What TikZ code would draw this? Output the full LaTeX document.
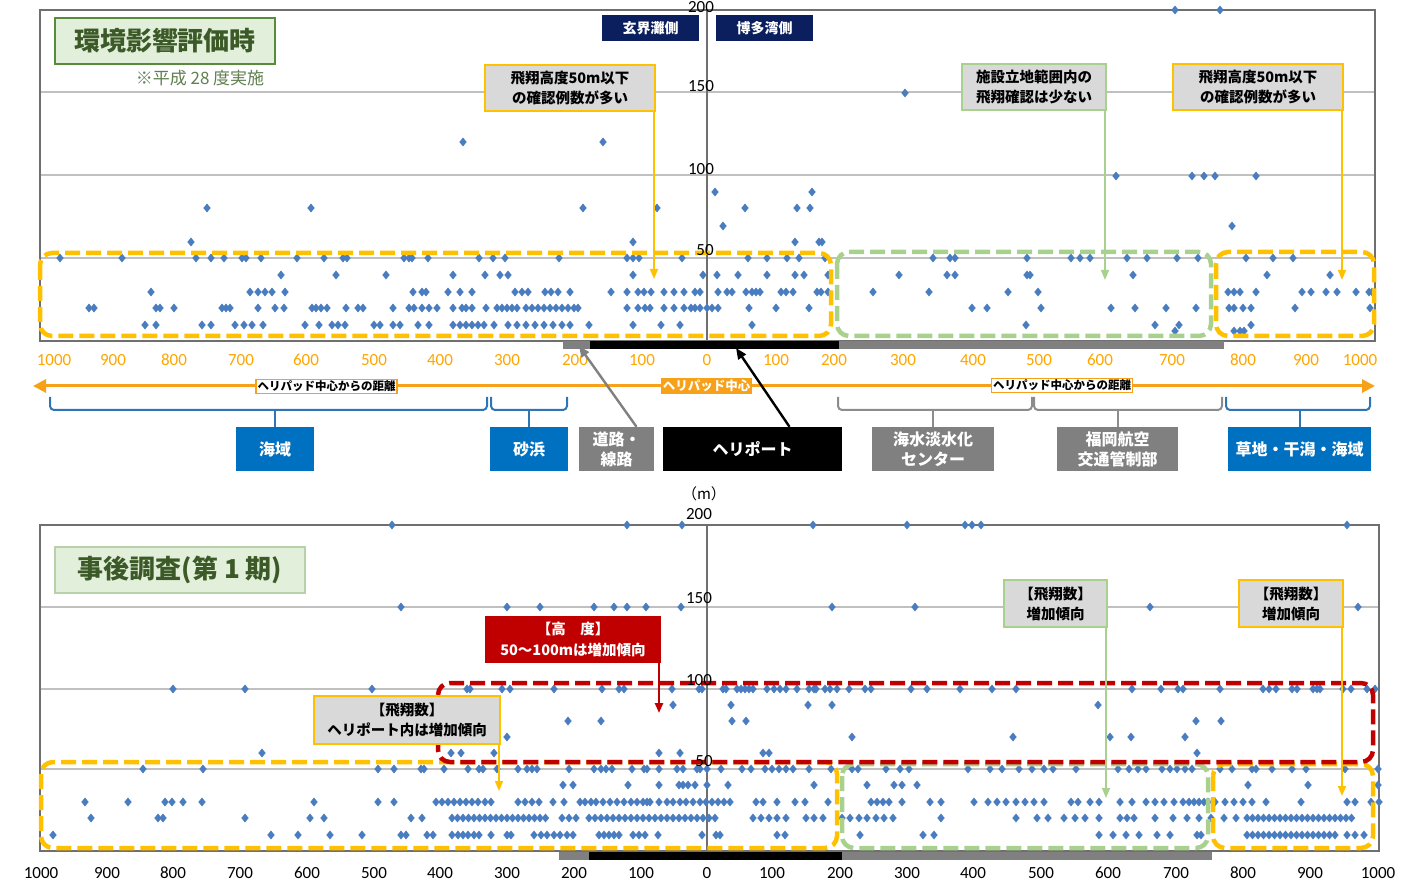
\documentclass[tikz,border=0pt]{standalone}
\usepackage{fontspec}
\usepackage{xcolor}
\usepackage{tikz}
\usetikzlibrary{arrows.meta,positioning}

\newfontfamily\jp{Noto Sans CJK JP}
\newfontfamily\num{Carlito}

\definecolor{dotblue}{HTML}{4A7DC0}
\definecolor{zoneorange}{HTML}{FFC000}
\definecolor{zonegreen}{HTML}{A9D18E}
\definecolor{zonered}{HTML}{C00000}
\definecolor{boxgray}{HTML}{D9D9D9}
\definecolor{navy}{HTML}{0B1F5E}
\definecolor{seablue}{HTML}{0070C0}
\definecolor{landgray}{HTML}{808080}
\definecolor{axisorange}{HTML}{FFA500}
\definecolor{arroworange}{HTML}{F7A11A}
\definecolor{titlefill}{HTML}{E2EFDA}
\definecolor{titletext}{HTML}{3C5A28}
\definecolor{titleborder}{HTML}{5A8A3C}
\definecolor{notetext}{HTML}{5E7F4E}
\definecolor{gridgray}{HTML}{C0C0C0}
\definecolor{framegray}{HTML}{6F6F6F}
\definecolor{bracegray}{HTML}{8C8C8C}
\definecolor{braceblue}{HTML}{2E75B6}

% one row of diamonds: \dotrow{y}{x list}
\newcommand\dotrow[2]{\foreach \px in {#2}{\fill[dotblue] (\px,#1) +(0,-4.4) -- +(3.7,0) -- +(0,4.4) -- +(-3.7,0) -- cycle;}}

\begin{document}
\begin{tikzpicture}[x=1pt,y=-1pt,
  grid/.style={draw=gridgray,line width=1.5pt},
  frame/.style={draw=framegray,line width=1.2pt},
  zone/.style={draw=#1,line width=4.5pt,dash pattern=on 15pt off 6pt,rounded corners=12pt},
  ylab/.style={font=\num\fontsize{17}{20}\selectfont,inner sep=0pt},
  xlabtop/.style={font=\num\fontsize{17}{20}\selectfont,text=axisorange,inner sep=0pt},
  xlabbot/.style={font=\num\fontsize{17}{20}\selectfont,inner sep=0pt},
  titlebox/.style={draw=titleborder,line width=1.2pt,fill=titlefill,text=titletext,font=\jp\bfseries\fontsize{26}{30}\selectfont},
  sidebox/.style={fill=navy,text=white,minimum width=97,minimum height=26,font=\jp\bfseries\fontsize{14}{16}\selectfont},
  callout/.style={draw=#1,line width=2.2pt,fill=boxgray,align=center,inner sep=1pt,font=\jp\bfseries\fontsize{14.5}{20}\selectfont},
  redbox/.style={fill=zonered,text=white,align=center,inner sep=1pt,font=\jp\bfseries\fontsize{14.5}{21}\selectfont},
  pointer/.style={draw=#1,line width=1.6pt,-{Triangle[length=10pt,width=8pt]}},
  zonebox/.style={fill=#1,text=white,align=center,minimum height=44,inner sep=1pt,font=\jp\bfseries\fontsize{16}{20}\selectfont},
  brace/.style={draw=#1,line width=2pt,rounded corners=4pt},
  distlab/.style={draw=arroworange,line width=1.4pt,fill=white,inner sep=1.5pt,font=\jp\bfseries\fontsize{11.5}{13}\selectfont},
  centerlab/.style={fill=arroworange,text=white,inner sep=2pt,font=\jp\bfseries\fontsize{12.5}{14}\selectfont}]
\useasboundingbox (0,0) rectangle (1428,882);

%%% upper chart
\draw[grid] (40,92) -- (1375,92);
\draw[grid] (40,175) -- (1375,175);
\draw[grid] (40,258) -- (1375,258);
\draw[frame] (40,10) rectangle (1375,341);
\draw[frame] (707,10) -- (707,341);

\dotrow{10}{1175,1220}
\dotrow{93}{905}
\dotrow{142}{463,603}
\dotrow{176}{1116,1192,1204,1215,1256}
\dotrow{192}{715,812}
\dotrow{208}{207,311,583,657,745,797,810}
\dotrow{226}{723,1232}
\dotrow{242}{191,633,795,819,822}
\dotrow{258}{60,122,196,211,224,242,246,261,297,324,343,347,404,409,412,428,479,493,505,559,627,633,639,682,748,767,787,799,825,933,950,955,1027,1071,1080,1090,1127,1147,1177,1198,1246,1273,1293}
\dotrow{275}{281,336,386,453,485,500,508,633,703,717,738,767,795,804,828,899,947,955,1027,1030,1133,1267,1330}
\dotrow{292}{151,250,258,265,272,285,413,422,426,448,460,472,515,522,528,545,551,558,570,611,627,638,644,651,664,674,684,695,700,718,727,732,746,752,756,760,781,786,793,817,821,828,873,929,1008,1038,1228,1234,1240,1256,1302,1311,1326,1337,1356,1369,1372}
\dotrow{308}{89,94,156,160,174,222,226,230,258,275,284,312,316,321,327,346,358,363,393,409,414,422,429,437,453,462,466,472,486,497,502,507,512,517,526,532,538,544,550,556,562,568,574,578,627,638,645,650,664,674,684,691,695,700,707,712,718,749,776,809,972,987,1041,1111,1135,1166,1196,1229,1234,1243,1251,1295,1370}
\dotrow{325}{145,156,202,211,235,244,252,263,305,319,332,338,345,374,380,393,400,418,429,453,460,466,472,478,484,494,508,517,526,535,544,553,562,570,589,633,661,680,752,1026,1155,1179,1251}
\dotrow{331}{1175,1234,1240,1244}

\draw[zone=zoneorange] (40,253) rectangle (831,336);
\draw[zone=zonegreen] (837,252) rectangle (1211,336);
\draw[zone=zoneorange] (1216,252) rectangle (1374,336);

\fill[landgray] (563,341) rectangle (590,349);
\fill[black] (590,341) rectangle (839,349);
\fill[landgray] (839,341) rectangle (1224,349);

\node[ylab] (ya200) at (701,7) {200};
\node[ylab] (ya150) at (701,86) {150};
\node[ylab] (ya100) at (701,169) {100};
\node[ylab] (ya50) at (705,250) {50};
\foreach \px/\lab [count=\i] in {54/1000,113/900,174/800,241/700,306/600,374/500,440/400,507/300,575/200,642/100,707/0,776/100,834/200,903/300,973/400,1039/500,1100/600,1172/700,1243/800,1306/900,1360/1000}
  \node[xlabtop] (xa\i) at (\px,360) {\lab};

\node[titlebox,minimum width=220,minimum height=46] (titleA) at (165,41) {環境影響評価時};
\node[text=notetext,font=\jp\fontsize{17}{20}\selectfont] (noteA) at (200,78) {※平成 28 度実施};
\node[sidebox] (genkai) at (650.5,28) {玄界灘側};
\node[sidebox] (hakata) at (764.5,28) {博多湾側};

\node[callout=zoneorange,minimum width=170,minimum height=46] (callA1) at (570,88) {飛翔高度50m以下\\の確認例数が多い};
\node[callout=zonegreen,minimum width=144,minimum height=46] (callA2) at (1034,87) {施設立地範囲内の\\飛翔確認は少ない};
\node[callout=zoneorange,minimum width=170,minimum height=46] (callA3) at (1258,87) {飛翔高度50m以下\\の確認例数が多い};
\coordinate (tipA1) at (654,279);
\coordinate (tipA2) at (1105,280);
\coordinate (tipA3) at (1342,280);
\draw[pointer=zoneorange] (tipA1 |- callA1.south) -- (tipA1);
\draw[pointer=zonegreen] (tipA2 |- callA2.south) -- (tipA2);
\draw[pointer=zoneorange] (tipA3 |- callA3.south) -- (tipA3);

%%% distance arrow and zones
\coordinate (distL) at (33,386);
\coordinate (distR) at (1375,386);
\draw[draw=arroworange,line width=3pt,{Triangle[length=13pt,width=13pt]}-{Triangle[length=13pt,width=13pt]}] (distL) -- (distR);
\node[distlab] (distA) at (326.5,386.5) {ヘリパッド中心からの距離};
\node[distlab] (distB) at (1062,385.5) {ヘリパッド中心からの距離};
\node[centerlab] (center) at (706.5,386) {ヘリパッド中心};

\node[zonebox=seablue,minimum width=78] (sea) at (275,449) {海域};
\node[zonebox=seablue,minimum width=78] (beach) at (529,449) {砂浜};
\node[zonebox=landgray,minimum width=75] (road) at (616.5,449) {道路・\\線路};
\node[zonebox=black,minimum width=179] (heli) at (752.5,449) {ヘリポート};
\node[zonebox=landgray,minimum width=122] (desal) at (933,449) {海水淡水化\\センター};
\node[zonebox=landgray,minimum width=121] (atc) at (1117.5,449) {福岡航空\\交通管制部};
\node[zonebox=seablue,minimum width=143] (grass) at (1299.5,449) {草地・干潟・海域};

\draw[brace=braceblue] (50,397) -- (50,410) -- (487,410) -- (487,397);
\draw[brace=braceblue] (491,397) -- (491,410) -- (567,410) -- (567,397);
\draw[brace=bracegray] (838,397) -- (838,410) -- (1032,410) -- (1032,397);
\draw[brace=bracegray] (1034,397) -- (1034,410) -- (1222,410) -- (1222,397);
\draw[brace=braceblue] (1226,397) -- (1226,410) -- (1370,410) -- (1370,397);
\draw[draw=braceblue,line width=2pt] (sea.north) -- (sea.north |- 0,410);
\draw[draw=braceblue,line width=2pt] (beach.north) -- (beach.north |- 0,410);
\draw[draw=bracegray,line width=2pt] (desal.north) -- (desal.north |- 0,410);
\draw[draw=bracegray,line width=2pt] (atc.north) -- (atc.north |- 0,410);
\draw[draw=braceblue,line width=2pt] (grass.north) -- (grass.north |- 0,410);

\coordinate (roadtip) at (579,346);
\coordinate (helitip) at (736,348);
\draw[draw=landgray,line width=2.4pt,-{Triangle[length=11pt,width=9pt]}] ([xshift=20pt]road.north) -- (roadtip);
\draw[draw=black,line width=2.4pt,-{Triangle[length=11pt,width=9pt]}] ([xshift=37pt]heli.north) -- (helitip);

\node[font=\jp\fontsize{15}{18}\selectfont] (unit) at (704,494) {（m）};

%%% lower chart
\draw[grid] (40,607) -- (1379,607);
\draw[grid] (40,689) -- (1379,689);
\draw[grid] (40,769) -- (1379,769);
\draw[frame] (40,525) rectangle (1379,851);
\draw[frame] (707,525) -- (707,851);

\dotrow{525}{392,627,682,813,907,965,972,981,1347}
\dotrow{607}{401,507,540,594,614,627,646,681,832,915,1150,1358}
\dotrow{689}{173,245,372,467,470,502,510,554,602,619,624,672,699,702,723,726,737,741,745,749,753,767,774,780,786,797,809,814,816,825,830,837,849,865,871,911,927,960,992,1016,1132,1161,1178,1183,1220,1263,1269,1276,1292,1297,1313,1317,1320,1343,1351,1367,1375}
\dotrow{705}{673,731,808,832,1098}
\dotrow{721}{568,601,732,746,1196,1221}
\dotrow{737}{507,852,1013,1110,1131,1185}
\dotrow{753}{262,451,461,494,659,680,763,769,1197}
\dotrow{769}{143,203,378,394,421,424,444,468,479,483,497,518,527,532,537,569,594,601,606,612,632,644,647,659,677,683,697,700,707,721,742,751,765,772,779,786,793,809,831,852,858,886,900,909,968,990,1002,1019,1032,1044,1053,1076,1118,1129,1138,1146,1162,1170,1177,1185,1192,1220,1232,1252,1256,1272,1292,1306,1345,1378}
\dotrow{785}{563,573,628,659,679,683,688,695,707,728,814,867,894,902,917,1248,1308,1378}
\dotrow{802}{85,128,165,172,183,202,314,378,394,436,442,448,454,460,466,472,478,485,491,518,525,532,539,553,564,580,585,591,596,603,610,617,624,631,637,643,647,650,659,667,673,680,686,693,700,706,712,718,724,730,756,763,777,795,805,828,871,877,883,889,902,930,941,974,988,997,1006,1016,1025,1034,1044,1071,1078,1090,1099,1120,1132,1146,1155,1164,1174,1183,1189,1194,1199,1204,1208,1215,1225,1234,1243,1252,1266,1301,1347,1355,1371,1379}
\dotrow{818}{91,158,163,245,310,324,411,422,452,457.5,...,550,562,569,576,589,595,...,716,753,761,769,777,786,806,814,823,842,850,859,867,876,884,893,941,1016,1037,1048,1064,1075,1085,1099,1120,1127,1134,1155,1173,1187,1199,1211,1224,1236,1247,1252.5,...,1352}
\dotrow{835}{53,271,298,330,362,401,406,427,433,452,458,463,468,474,479,491,507,511,534,541,547,554,560,567,573,599,604,609,614,619,633,639,645,658,702,716,720,777,785,860,923,934,1099,1113,1126,1139,1157,1170,1197,1201,1247,1252.5,...,1340,1347,1355,1364}

\draw[zone=zoneorange] (41,762) rectangle (837,848);
\draw[zone=zonegreen] (842,764) rectangle (1208,848);
\draw[zone=zoneorange] (1213,764) rectangle (1373,848);
\draw[zone=zonered] (438,683) rectangle (1373,762);

\fill[landgray] (559,852) rectangle (589,860);
\fill[black] (589,852) rectangle (842,860);
\fill[landgray] (842,852) rectangle (1212,860);

\node[ylab] (yb200) at (699,514) {200};
\node[ylab] (yb150) at (699,598) {150};
\node[ylab] (yb100) at (699,680) {100};
\node[ylab] (yb50) at (704,761) {50};
\foreach \px/\lab [count=\i] in {41/1000,107/900,173/800,240/700,307/600,374/500,440/400,507/300,574/200,641/100,707/0,772/100,840/200,907/300,973/400,1041/500,1108/600,1176/700,1243/800,1310/900,1378/1000}
  \node[xlabbot] (xb\i) at (\px,873) {\lab};

\node[titlebox,draw=titlefill!70!titleborder,minimum width=250,minimum height=46] (titleB) at (180,570) {事後調査(第 1 期)};

\node[redbox,minimum width=176,minimum height=47] (callB1) at (573,639.5) {【高　度】\\50～100mは増加傾向};
\node[callout=zoneorange,minimum width=186,minimum height=48] (callB2) at (407,720) {【飛翔数】\\ヘリポート内は増加傾向};
\node[callout=zonegreen,minimum width=103,minimum height=47] (callB3) at (1055.5,603.5) {【飛翔数】\\増加傾向};
\node[callout=zoneorange,minimum width=104,minimum height=47] (callB4) at (1291,603.5) {【飛翔数】\\増加傾向};
\coordinate (tipB1) at (659,713);
\coordinate (tipB2) at (499,791);
\coordinate (tipB3) at (1106,798);
\coordinate (tipB4) at (1342,796);
\draw[pointer=zonered,line width=2.4pt] (tipB1 |- callB1.south) -- (tipB1);
\draw[pointer=zoneorange] (tipB2 |- callB2.south) -- (tipB2);
\draw[pointer=zonegreen] (tipB3 |- callB3.south) -- (tipB3);
\draw[pointer=zoneorange] (tipB4 |- callB4.south) -- (tipB4);
\end{tikzpicture}
\end{document}
